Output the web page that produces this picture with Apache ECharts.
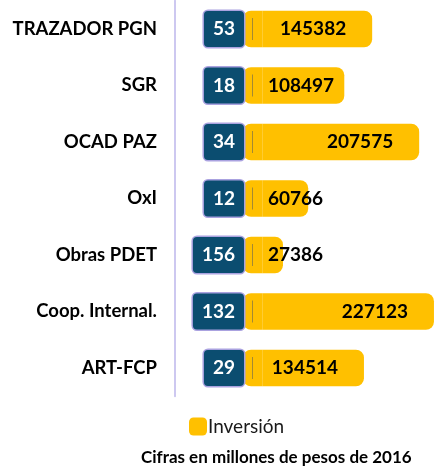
<!DOCTYPE html>
<html>
<head>
<meta charset="utf-8">
<script src="https://cdn.jsdelivr.net/npm/echarts@6/dist/echarts.min.js"></script>
<style>html,body{margin:0;padding:0;background:#fff}#c{width:435px;height:474px}</style>
</head>
<body>
<div id="c"></div>
<script>
const categories = ['TRAZADOR PGN', 'SGR', 'OCAD PAZ', 'OxI', 'Obras PDET', 'Coop. Internal.', 'ART-FCP'];
const counts = [53, 18, 34, 12, 156, 132, 29];
const investment = [145382, 108497, 207575, 60766, 27386, 227123, 134514];
const legendNames = ['Inversión'];
const subtitle = 'Cifras en millones de pesos de 2016';

const PAD = 25500;
const FONT = 'Lato';
const VALUE_FONT = 'bold 19px ' + FONT;
const cv = document.createElement('canvas').getContext('2d');
function measure(t) { cv.font = VALUE_FONT; return cv.measureText(t).width; }

const chart = echarts.init(document.getElementById('c'), null, { renderer: 'canvas' });
const option = {
  animation: false,
  title: {
    text: subtitle, left: 141, top: 449, padding: 0,
    textStyle: { fontFamily: FONT, fontSize: 17, fontWeight: 'bold', color: '#000' }
  },
  legend: {
    data: legendNames, left: 189, top: 417, padding: 0,
    itemWidth: 18, itemHeight: 18, icon: 'roundRect',
    textStyle: { fontFamily: FONT, fontSize: 19, color: '#1a1a1a', padding: [0, 0, 0, -4] }
  },
  grid: { left: 243, right: 0, top: 0.75, height: 395.5 },
  xAxis: { type: 'value', min: 0, max: 254000, show: false },
  yAxis: {
    type: 'category', data: categories, inverse: true, offset: 68,
    axisLine: { onZero: false, lineStyle: { color: '#cdc8f0', width: 2 } },
    axisTick: { show: false },
    axisLabel: { margin: 18, fontFamily: FONT, fontWeight: 'bold', fontSize: 18.5, color: '#000' }
  },
  series: [
    {
      type: 'bar', name: 'base', stack: 'a', barWidth: 36.5,
      data: categories.map(() => PAD),
      itemStyle: { color: '#ffc000', borderRadius: [8, 0, 0, 8] },
      label: {
        show: true, position: 'left', distance: -1,
        formatter: p => String(counts[p.dataIndex]),
        backgroundColor: '#0b4d70', borderColor: '#aaa2e0', borderWidth: 1.5, borderRadius: 4,
        padding: [0, 9], height: 36, lineHeight: 36,
        color: '#fff', fontFamily: FONT, fontWeight: 'bold', fontSize: 19
      }
    },
    {
      type: 'bar', name: 'Inversión', stack: 'a', barWidth: 36.5,
      data: investment,
      itemStyle: { color: '#ffc000', borderRadius: [0, 8, 8, 0] }
    },
    {
      type: 'custom', name: 'labels', silent: true, z: 10,
      encode: { x: 0, y: 1 },
      data: investment.map((v, i) => [v, i]),
      renderItem: function (params, api) {
        const v = api.value(0), i = api.value(1);
        const start = api.coord([0, i]);
        const end = api.coord([PAD + v, i]);
        const txt = String(v);
        const w = measure(txt);
        let right = end[0] - 26;
        if (right - w < start[0] + 25) right = start[0] + 25 + w;
        return {
          type: 'group',
          children: [
            { type: 'line', shape: { x1: start[0] + 9.5, y1: end[1] - 11, x2: start[0] + 9.5, y2: end[1] + 11 },
              style: { stroke: '#8c7a40', lineWidth: 1, opacity: 0.8 } },
            { type: 'text', style: { text: txt, x: right, y: end[1], align: 'right', verticalAlign: 'middle',
              fontFamily: FONT, fontWeight: 'bold', fontSize: 19, fill: '#000' } }
          ]
        };
      }
    }
  ]
};
chart.setOption(option);
</script>
</body>
</html>
